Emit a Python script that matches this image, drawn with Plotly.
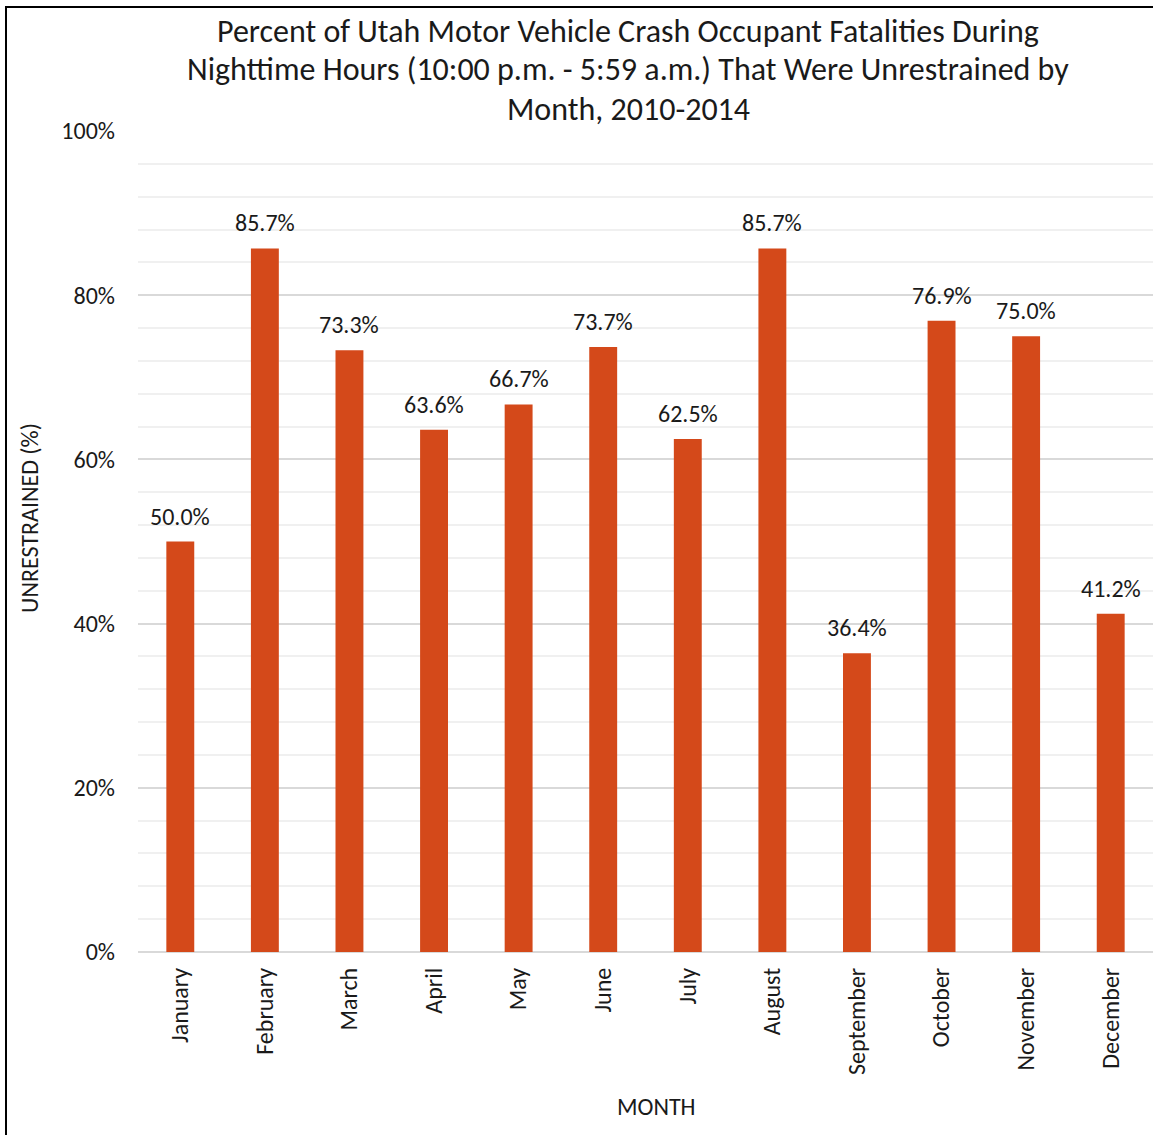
import plotly.graph_objects as go

months = ["January", "February", "March", "April", "May", "June",
          "July", "August", "September", "October", "November", "December"]
values = [50.0, 85.7, 73.3, 63.6, 66.7, 73.7, 62.5, 85.7, 36.4, 76.9, 75.0, 41.2]
title_lines = ["Percent of Utah Motor Vehicle Crash Occupant Fatalities During",
               "Nighttime Hours (10:00 p.m. - 5:59 a.m.) That Were Unrestrained by",
               "Month, 2010-2014"]

FONT = "Carlito, Lato, sans-serif"
TXT = "#1a1a1a"
W, H = 1153, 1135
ML, MR, MT, MB = 138, 0, 131, 183
PW, PH = W - ML - MR, H - MT - MB


def px(x):
    return (x - ML) / PW


def py(y):
    return (952 - y) / PH


fig = go.Figure()
fig.add_trace(go.Bar(
    x=months, y=[v / 100 for v in values],
    marker=dict(color="#D4491A", line=dict(width=0)),
    width=0.33, hoverinfo="x+y",
))

for m, v in zip(months, values):
    fig.add_annotation(x=m, y=v / 100, text=f"{v:.1f}%", showarrow=False,
                       xanchor="center", yanchor="bottom", yshift=9,
                       font=dict(family=FONT, size=24, color=TXT))

fig.add_annotation(xref="paper", yref="paper", x=px(29), y=py(518),
                   xanchor="center", yanchor="middle",
                   text="UNRESTRAINED (%)", textangle=-90, showarrow=False,
                   font=dict(family=FONT, size=24, color=TXT))
fig.add_annotation(xref="paper", yref="paper", x=px(656), y=py(1106),
                   xanchor="center", yanchor="middle",
                   text="MONTH", showarrow=False,
                   font=dict(family=FONT, size=24, color=TXT))
for i, line in enumerate(title_lines):
    fig.add_annotation(xref="paper", yref="paper", x=px(628), y=py(31 + 39 * i),
                       xanchor="center", yanchor="middle", showarrow=False,
                       text=line, font=dict(family=FONT, size=32, color=TXT))

# outer frame: only the left and top edges fall inside the picture
fig.add_shape(type="rect", xref="paper", yref="paper",
              x0=px(6), x1=px(1170), y0=py(1160), y1=py(7),
              line=dict(color="black", width=2), fillcolor="rgba(0,0,0,0)", layer="above")

fig.update_layout(
    width=W, height=H,
    margin=dict(l=ML, r=MR, t=MT, b=MB),
    paper_bgcolor="white", plot_bgcolor="white",
    showlegend=False,
    font=dict(family=FONT, color=TXT),
)
fig.update_xaxes(tickangle=-90, tickfont=dict(family=FONT, size=24, color=TXT),
                 showline=False, showgrid=False, ticks="", ticklabelstandoff=10)
fig.update_yaxes(range=[0, 1], dtick=0.2, tickformat=".0%",
                 tickfont=dict(family=FONT, size=24, color=TXT),
                 showgrid=True, gridcolor="#d9d9d9", gridwidth=1.5,
                 minor=dict(dtick=0.04, showgrid=True, gridcolor="#f0f0f0", gridwidth=1.5),
                 zeroline=True, zerolinecolor="#d9d9d9", zerolinewidth=1.5,
                 showline=False, ticks="", ticklabelstandoff=22)

fig.write_html("out.html", config={"displayModeBar": False},
               post_script="document.body.style.margin='0px';document.body.style.overflow='hidden';")
